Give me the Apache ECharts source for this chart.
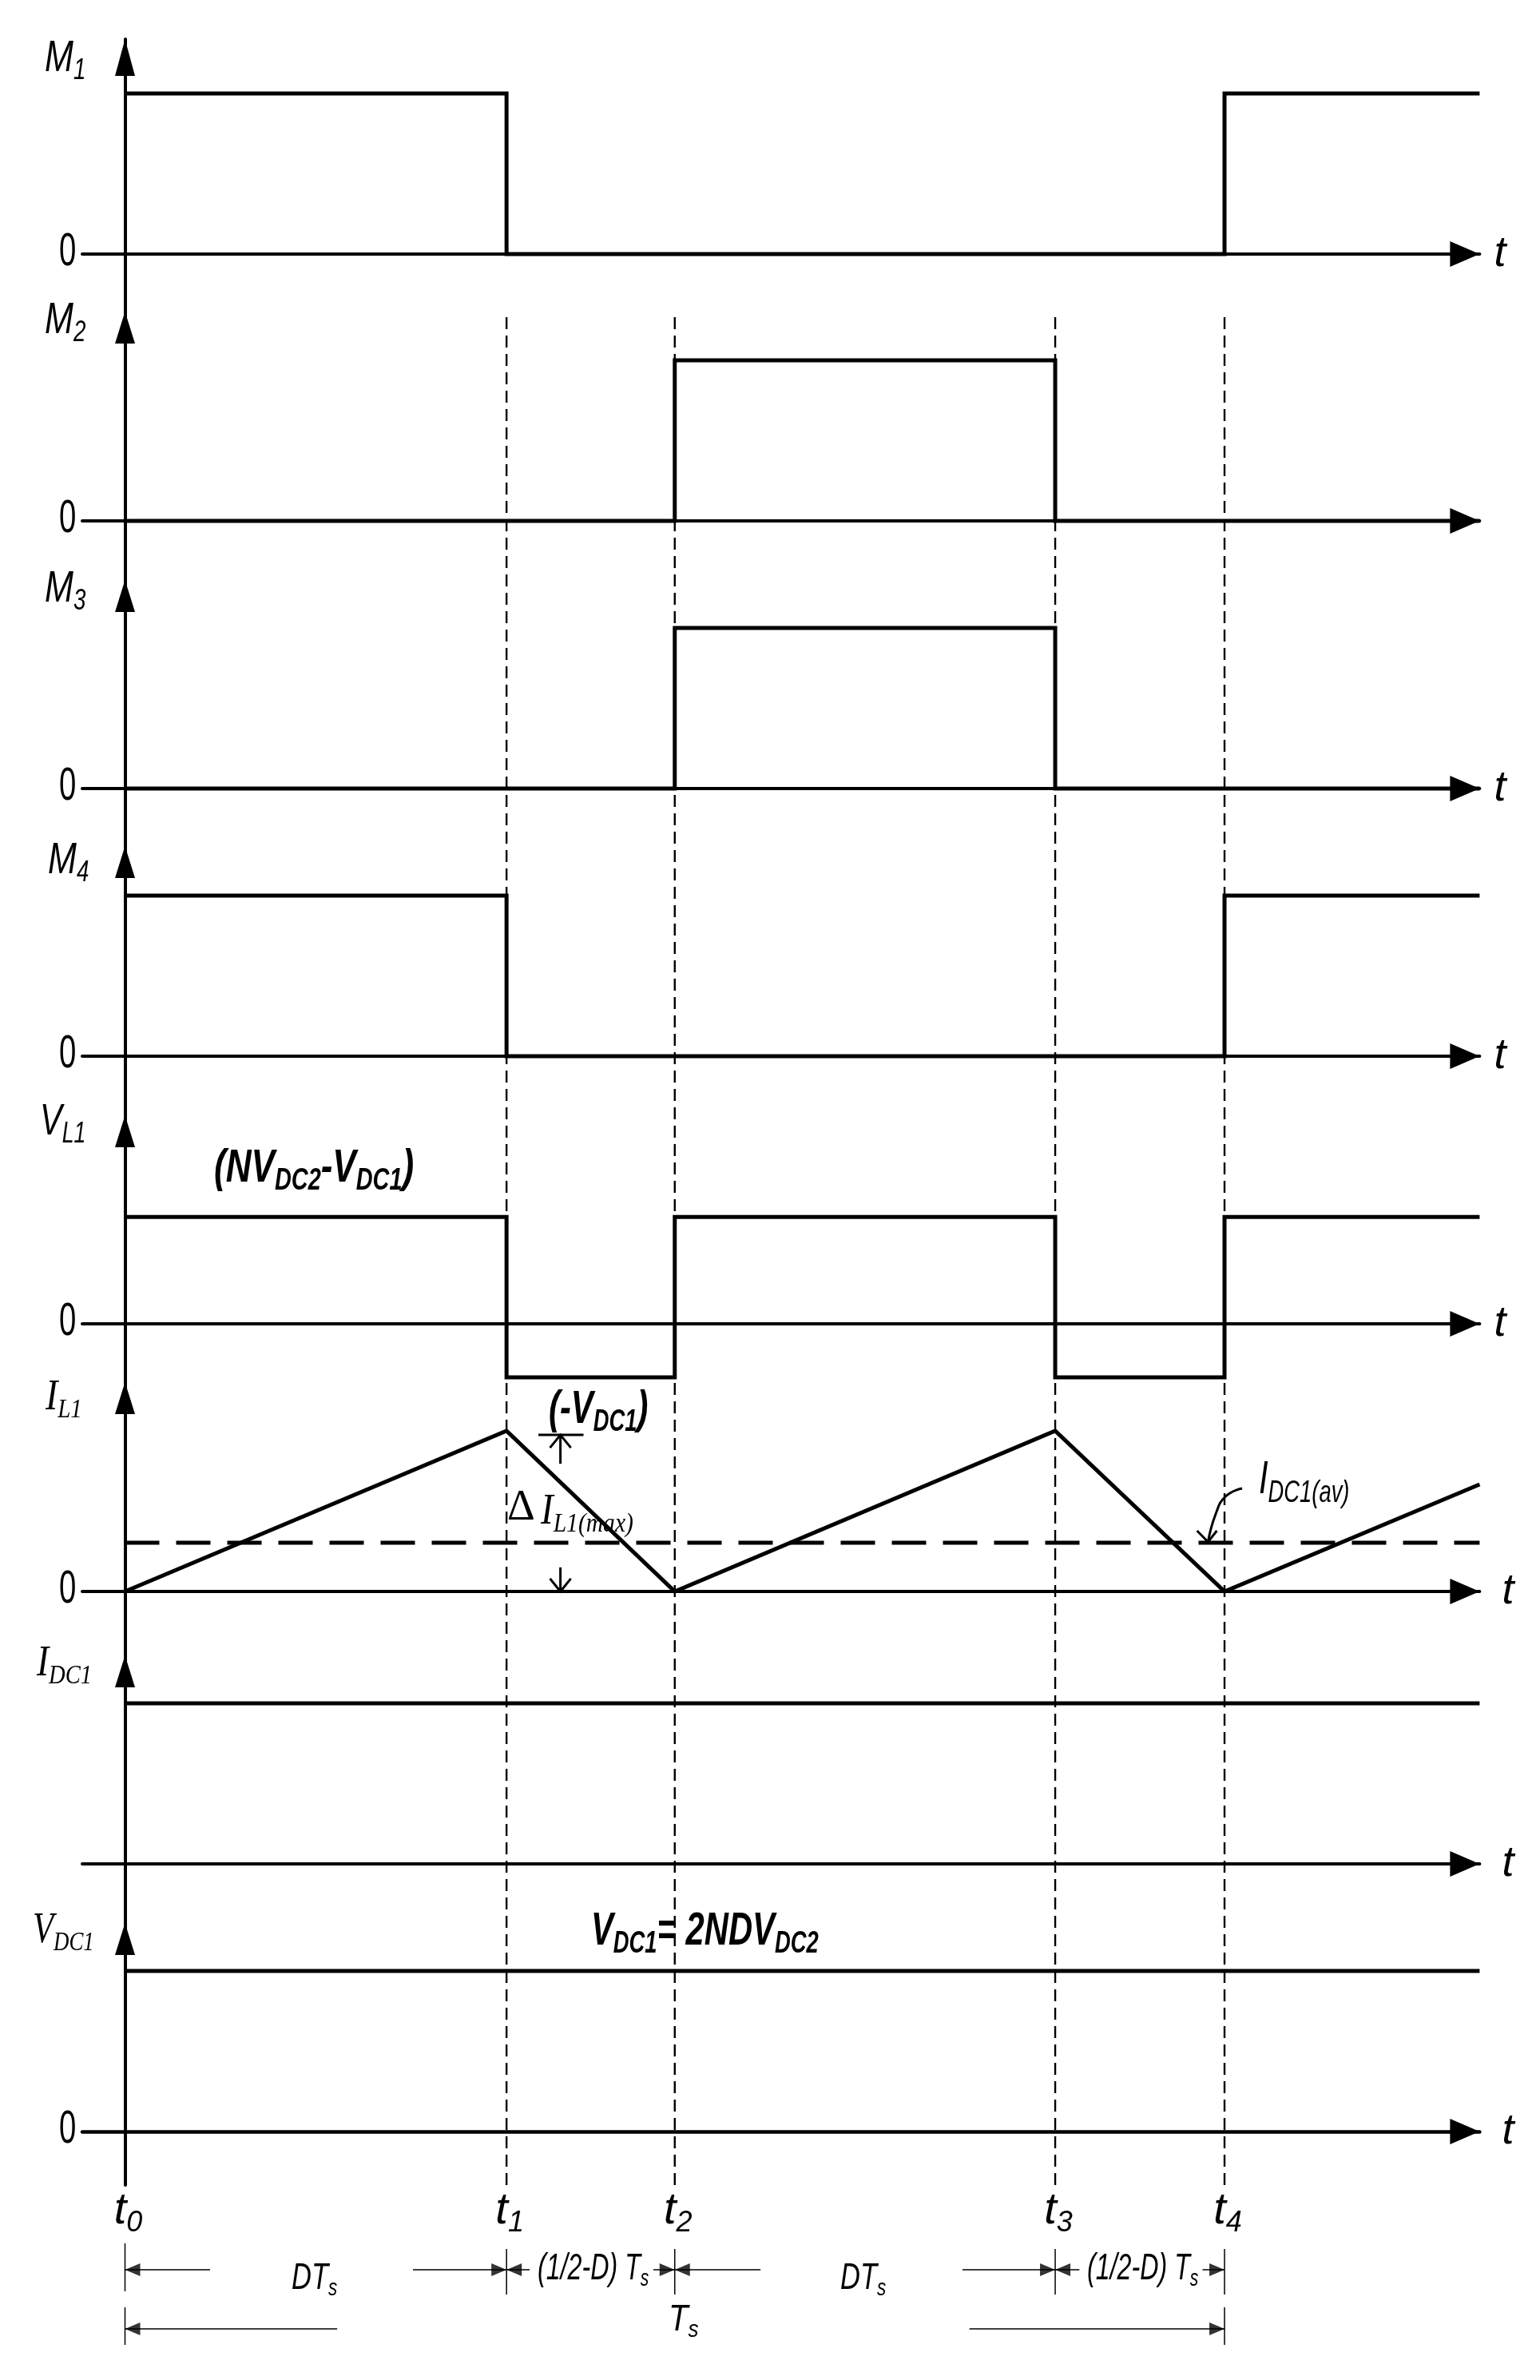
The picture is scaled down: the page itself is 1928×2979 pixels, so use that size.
<!DOCTYPE html>
<html>
<head>
<meta charset="utf-8">
<title>Switching waveforms</title>
<style>
  html, body { margin: 0; padding: 0; background: #fff; }
  #main { width: 1928px; height: 2979px; }
</style>
<script src="https://cdn.jsdelivr.net/npm/echarts@6/dist/echarts.min.js"></script>
</head>
<body>
<div id="main"></div>
<script>
// switching instants, as a fraction of Ts
const tickTimes = [0, 0.347, 0.5, 0.846, 1];
const tickNames = ['0', '1', '2', '3', '4'];
const timeEnd = 1.232;
const [t0, t1, t2, t3, t4] = tickTimes;

// waveforms, [time, level]
const m1Wave = [[t0, 1], [t1, 1], [t1, 0], [t4, 0], [t4, 1], [timeEnd, 1]];
const m2Wave = [[t0, 0], [t2, 0], [t2, 1], [t3, 1], [t3, 0], [timeEnd, 0]];
const m3Wave = [[t0, 0], [t2, 0], [t2, 1], [t3, 1], [t3, 0], [timeEnd, 0]];
const m4Wave = [[t0, 1], [t1, 1], [t1, 0], [t4, 0], [t4, 1], [timeEnd, 1]];
const vl1Wave = [[t0, 0.665], [t1, 0.665], [t1, -0.333], [t2, -0.333], [t2, 0.665], [t3, 0.665],
  [t3, -0.333], [t4, -0.333], [t4, 0.665], [timeEnd, 0.665]];
const il1Wave = [[t0, 0], [t1, 1], [t2, 0], [t3, 1], [t4, 0], [timeEnd, 0.667]];
const il1Average = [[t0, 0.303], [timeEnd, 0.303]];
const idc1Wave = [[t0, 1], [timeEnd, 1]];
const vdc1Wave = [[t0, 1], [timeEnd, 1]];

const panelNames = ['M1', 'M2', 'M3', 'M4', 'VL1', 'IL1', 'IDC1', 'VDC1'];
const panelWaves = [m1Wave, m2Wave, m3Wave, m4Wave, vl1Wave, il1Wave, idc1Wave, vdc1Wave];
const zeroLabelPanels = ['M1', 'M2', 'M3', 'M4', 'VL1', 'IL1', 'VDC1'];

// page layout of the panels
const axisX = 156.5, axisStartX = 103, axisEndX = 1852.4;
const pxPerTs = 1376.5, pxPerUnit = 201;
const tipY = [49, 390, 726, 1059, 1396, 1730, 2072, 2407];
const zeroY = [318, 652, 987, 1322, 1657, 1992, 2333, 2668];
const arrowLength = [46, 40, 40, 40, 40, 40, 40, 40];
const axisBottomY = 2735;
const tGap = [18, 0, 18, 18, 18, 28, 28, 28];

// name labels: left edge, glyph centre, horizontal squeeze (the source type is condensed)
const nameLeft = [56, 56, 56, 60, 50, 57, 46, 41];
const nameCentre = [73, 401, 737, 1077, 1404, 1750, 2083, 2417];
const nameSqueeze = [0.77, 0.77, 0.77, 0.77, 0.74, 0.85, 0.84, 0.79];

const sans = '"Liberation Sans", Arial, sans-serif';
const serif = '"Liberation Serif", serif';
const ink = '#000';

function rich(family, size, subSize, weight) {
  const base = { fontFamily: family, fontStyle: 'italic', fontWeight: weight || 'normal', color: ink };
  return {
    m: { ...base, fontSize: size, lineHeight: size },
    s: { ...base, fontSize: subSize, lineHeight: subSize, padding: [Math.round(size * 0.55), 0, 0, 0] }
  };
}
const sansRich = rich(sans, 56, 36);
const serifRich = rich(serif, 54, 34);

const xMin = -(axisX - axisStartX) / pxPerTs;
const xMax = timeEnd;

const grids = [], xAxes = [], yAxes = [], series = [];

function addLine(grid, data, extra) {
  series.push(Object.assign({
    type: 'line', xAxisIndex: grid, yAxisIndex: grid, data: data,
    showSymbol: false, symbol: 'none', clip: false, silent: true, animation: false, z: 3,
    lineStyle: { color: ink, width: 5, cap: 'butt', join: 'miter' }
  }, extra));
}

// one grid per trace
panelNames.forEach((name, i) => {
  const bottomY = i < 7 ? tipY[i + 1] : axisBottomY;
  grids.push({ left: axisStartX, top: tipY[i], width: axisEndX - axisStartX, height: bottomY - tipY[i] });
  xAxes.push({
    gridIndex: i, type: 'value', min: xMin, max: xMax,
    name: tGap[i] ? 't' : '', nameLocation: 'end', nameGap: tGap[i],
    nameTextStyle: { fontFamily: sans, fontStyle: 'italic', fontSize: 54, color: ink, align: 'left', verticalAlign: 'middle' },
    axisLine: {
      onZero: true, symbol: ['none', 'triangle'], symbolSize: [32, 37], symbolOffset: [0, -18.5],
      lineStyle: { color: ink, width: i === 7 ? 4.5 : 4 }
    },
    axisTick: { show: false }, axisLabel: { show: false }, splitLine: { show: false }
  });
  yAxes.push({
    gridIndex: i, type: 'value',
    min: -(bottomY - zeroY[i]) / pxPerUnit, max: (zeroY[i] - tipY[i]) / pxPerUnit,
    axisLine: {
      onZero: true, symbol: ['none', 'triangle'], symbolSize: [25, arrowLength[i]], symbolOffset: [0, -arrowLength[i] / 2],
      lineStyle: { color: ink, width: 4 }
    },
    axisTick: { show: false }, axisLabel: { show: false }, splitLine: { show: false }
  });
  addLine(i, panelWaves[i], { name: name });
});

// IL1 extras: average line and the small annotation arrows
const IL1 = 5;
addLine(IL1, il1Average, { name: 'IDC1(av)', lineStyle: { color: ink, width: 5, type: [43, 21], cap: 'butt' } });
const thin = { color: ink, width: 3, cap: 'butt', join: 'miter' };
const deltaX = 0.396;
addLine(IL1, [[0.376, 0.975], [0.417, 0.975]], { lineStyle: thin });
addLine(IL1, [[deltaX, 0.795], [deltaX, 0.975]], { lineStyle: thin });
addLine(IL1, [[deltaX - 0.0095, 0.895], [deltaX, 0.975], [deltaX + 0.0095, 0.895]], { lineStyle: thin });
addLine(IL1, [[deltaX, 0.15], [deltaX, 0]], { lineStyle: thin });
addLine(IL1, [[deltaX - 0.0095, 0.08], [deltaX, 0], [deltaX + 0.0095, 0.08]], { lineStyle: thin });
addLine(IL1, [[1.016, 0.642], [1.001, 0.592], [0.992, 0.483], [0.985, 0.308]], { smooth: true, lineStyle: thin });
addLine(IL1, [[0.975, 0.378], [0.985, 0.308], [0.993, 0.378]], { lineStyle: thin });

// dashed guides at t1..t4
const GUIDE = 8;
grids.push({ left: axisStartX, top: tipY[1], width: axisEndX - axisStartX, height: axisBottomY - tipY[1] });
xAxes.push({ gridIndex: GUIDE, type: 'value', min: xMin, max: xMax, show: false });
yAxes.push({ gridIndex: GUIDE, type: 'value', min: 0, max: 1, show: false });
tickTimes.slice(1).forEach(t => {
  addLine(GUIDE, [[t, 0], [t, 1]], { z: 2, lineStyle: { color: ink, width: 2.4, type: [15, 8], cap: 'butt' } });
});

// dimension rows under the traces, row 1 and row 2
const DIM = 9;
const dimTop = axisBottomY, dimBottom = 2979;
const rowPx = 74, row0Y = 2767;
grids.push({ left: axisStartX, top: dimTop, width: axisEndX - axisStartX, height: dimBottom - dimTop });
xAxes.push({
  gridIndex: DIM, type: 'value', min: xMin, max: xMax, position: 'top',
  axisLine: { show: false }, axisTick: { show: false }, splitLine: { show: false },
  axisLabel: {
    show: true, inside: true, margin: 4, customValues: tickTimes, hideOverlap: false,
    padding: [0, 0, 0, 8],
    formatter: v => '{m|t}{s|' + tickNames[tickTimes.indexOf(v)] + '}',
    rich: sansRich
  }
});
yAxes.push({
  gridIndex: DIM, type: 'value', inverse: true, show: false,
  min: (dimTop - row0Y) / rowPx, max: (dimBottom - row0Y) / rowPx
});

const dimRow1Segments = [
  [t0, 0.0774], [0.2619, t1], [t1, 0.368], [0.4806, t2], [t2, 0.578],
  [0.7617, t3], [t3, 0.868], [0.98, t4]
];
const dimRow2Segments = [[t0, 0.193], [0.768, t4]];
const extensionLines = [
  [t0, 0.554, 1.365], [t1, 0.65, 1.42], [t2, 0.65, 1.42], [t3, 0.65, 1.42], [t4, 0.65, 1.42],
  [t0, 1.635, 2.27], [t4, 1.635, 2.27]
];
const hair = { color: ink, width: 1.5, cap: 'butt' };
dimRow1Segments.forEach(s => addLine(DIM, [[s[0], 1], [s[1], 1]], { lineStyle: hair }));
dimRow2Segments.forEach(s => addLine(DIM, [[s[0], 2], [s[1], 2]], { lineStyle: hair }));
extensionLines.forEach(e => addLine(DIM, [[e[0], e[1]], [e[0], e[2]]], { lineStyle: hair }));

const headsRight = [[t1, 1], [t2, 1], [t3, 1], [t4, 1], [t4, 2]];
const headsLeft = [[t0, 1], [t1, 1], [t2, 1], [t3, 1], [t0, 2]];
function addHeads(data, rotate, offset) {
  series.push({
    type: 'scatter', xAxisIndex: DIM, yAxisIndex: DIM, data: data, clip: false, silent: true, animation: false,
    symbol: 'triangle', symbolSize: [16, 19], symbolRotate: rotate, symbolOffset: [offset, 0],
    itemStyle: { color: ink }, z: 4
  });
}
addHeads(headsRight, -90, -9.5);
addHeads(headsLeft, 90, 9.5);

// free text, squeezed sideways because the source type is condensed
function note(text, x, y, richStyle, squeeze) {
  return {
    type: 'text', z: 10, silent: true, x: x, y: y, scaleX: squeeze,
    style: { text: text, rich: richStyle, align: 'left', verticalAlign: 'middle' }
  };
}
const heavyRich = rich(sans, 58, 38, 'bold');
const bigRich = rich(sans, 58, 38);
const dimRich = rich(sans, 46, 30);
const graphics = [
  note('{m|(NV}{s|DC2}{m|-V}{s|DC1}{m|)}', 268, 1463, heavyRich, 0.76),
  note('{m|(-V}{s|DC1}{m|)}', 687, 1765, heavyRich, 0.72),
  note('{m|I}{s|DC1(av)}', 1576, 1853, bigRich, 0.72),
  note('{d|Δ}', 635, 1888, { d: { fontFamily: serif, fontSize: 54, color: ink } }, 1),
  note('{m|I}{s|L1(max)}', 677, 1893, serifRich, 0.87),
  note('{m|V}{s|DC1}{m|= 2NDV}{s|DC2}', 740, 2418, heavyRich, 0.72),
  note('{m|DT}{s|s}', 365, 2852, dimRich, 0.75),
  note('{m|DT}{s|s}', 1052, 2852, dimRich, 0.75),
  note('{m|(1/2-D) T}{s|s}', 673, 2840, dimRich, 0.7),
  note('{m|(1/2-D) T}{s|s}', 1361, 2840, dimRich, 0.7),
  note('{m|T}{s|s}', 837, 2904, dimRich, 0.87)
];

// trace names and the zero marks
panelNames.forEach((name, i) => {
  const isSerif = name === 'IL1' || name === 'IDC1' || name === 'VDC1';
  const text = '{m|' + name[0] + '}{s|' + name.slice(1) + '}';
  graphics.push(note(text, nameLeft[i], nameCentre[i], isSerif ? serifRich : sansRich, nameSqueeze[i]));
  if (zeroLabelPanels.includes(name)) {
    graphics.push(note('{z|0}', 74, zeroY[i] - 2, { z: { fontFamily: sans, fontSize: 58, color: ink } }, 0.66));
  }
});

const chart = echarts.init(document.getElementById('main'));
chart.setOption({
  backgroundColor: '#fff',
  animation: false,
  grid: grids,
  xAxis: xAxes,
  yAxis: yAxes,
  series: series,
  graphic: graphics
});
</script>
</body>
</html>
